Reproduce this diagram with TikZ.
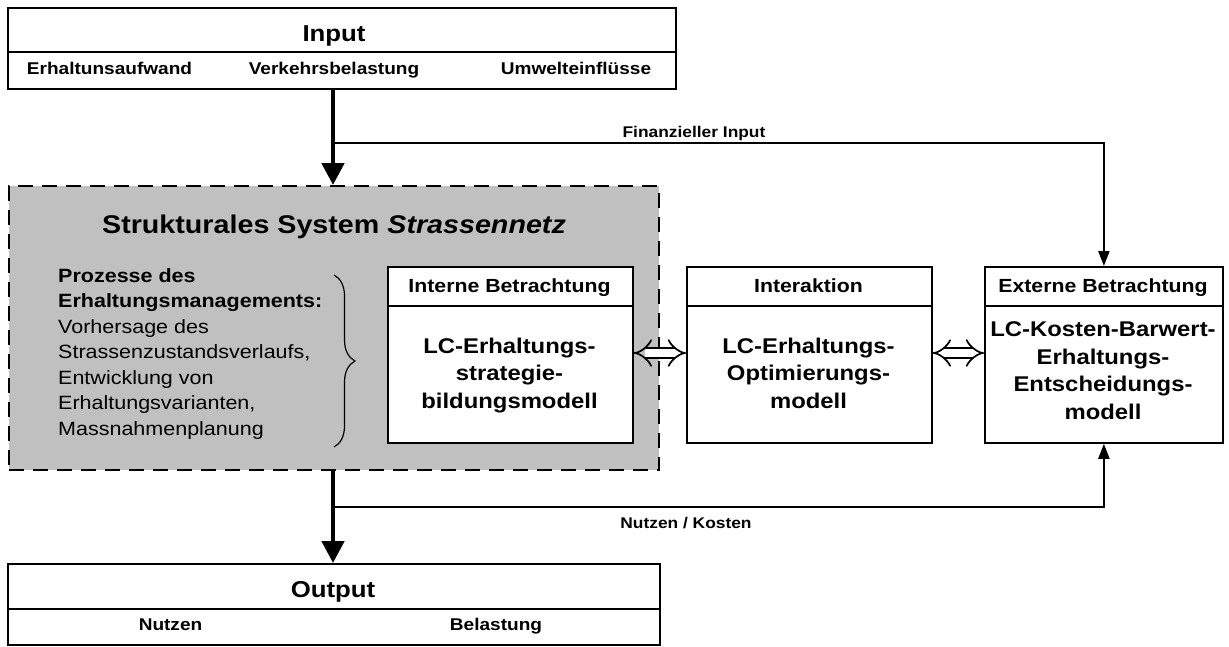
\documentclass[tikz,border=0pt]{standalone}
\usepackage{fontspec}
\setmainfont{Liberation Sans}[FakeStretch=1.12]
\usetikzlibrary{arrows.meta,decorations.pathreplacing,calc}
\definecolor{sysgray}{RGB}{192,192,192}
\begin{document}
\begin{tikzpicture}[x=1pt,y=-1pt,
  frame/.style={draw, line width=1.8pt, fill=white, anchor=north west, inner sep=0pt},
  sysframe/.style={draw, line width=2.4pt, fill=sysgray, dash pattern=on 15pt off 9pt, anchor=north west, inner sep=0pt},
  rule/.style={line width=1.5pt},
  lbl/.style={anchor=base, inner sep=0pt},
  mainflow/.style={line width=4.8pt, -{Triangle[length=22pt,width=22pt]}},
  sideflow/.style={line width=2.2pt, -{Triangle[length=15pt,width=11pt]}},
  exchange/.style={double, double distance=8pt, line width=1.7pt, {Implies[length=9pt]}-{Implies[length=9pt]}},
  head/.style={lbl, font=\fontsize{23}{27}\selectfont\bfseries},
  sub/.style={lbl, font=\fontsize{17}{20}\selectfont\bfseries},
  boxhead/.style={lbl, font=\fontsize{19}{22}\selectfont\bfseries},
  boxbody/.style={lbl, font=\fontsize{21.3}{27.5}\selectfont\bfseries, align=center},
  flowlabel/.style={lbl, font=\fontsize{15.5}{18}\selectfont\bfseries}
]
\useasboundingbox (0,0) rectangle (1229,646);

% Input box
\node[frame, minimum width=668pt, minimum height=81pt] (input) at (7,7) {};
\draw[rule] (7,52) -- (675,52);
\node[head] (inputT) at (334,41) {Input};
\node[sub] (in1) at (109.5,74) {Erhaltunsaufwand};
\node[sub] (in2) at (334,74) {Verkehrsbelastung};
\node[sub] (in3) at (576,74) {Umwelteinflüsse};

% structural system (dashed)
\node[sysframe, minimum width=650pt, minimum height=284pt] (sys) at (8,185) {};
\node[lbl, font=\fontsize{25.6}{30}\selectfont\bfseries] (sysT) at (334,233) {Strukturales System \textit{Strassennetz}};
% multi-line blocks: the base anchor sits on the last line
\node[anchor=base west, align=left, inner sep=0pt, font=\fontsize{19.2}{25.5}\selectfont] (proc) at (58,435)
  {\textbf{Prozesse des}\\\textbf{Erhaltungsmanagements:}\\Vorhersage des\\Strassenzustandsverlaufs,\\Entwicklung von\\Erhaltungsvarianten,\\Massnahmenplanung};
\coordinate (brTop) at (334,275);
\coordinate (brBot) at (334,447);
\draw[line width=1.2pt, decorate, decoration={brace, amplitude=21pt}] (brTop) -- (brBot);

% internal view
\node[frame, minimum width=245pt, minimum height=176pt] (intern) at (387,266) {};
\draw[rule] (387,306) -- (632,306);
\node[boxhead] (internH) at (509.5,292) {Interne Betrachtung};
\node[boxbody] (internB) at (509.5,408) {LC-Erhaltungs-\\strategie-\\bildungsmodell};

% interaction
\node[frame, minimum width=245pt, minimum height=176pt] (inter) at (686,266) {};
\draw[rule] (686,306) -- (931,306);
\node[boxhead] (interH) at (808.5,292) {Interaktion};
\node[boxbody] (interB) at (808.5,408) {LC-Erhaltungs-\\Optimierungs-\\modell};

% external view
\node[frame, minimum width=238pt, minimum height=176pt] (extern) at (984,266) {};
\draw[rule] (984,306) -- (1222,306);
\node[boxhead] (externH) at (1103,292) {Externe Betrachtung};
\node[boxbody] (externB) at (1103,419) {LC-Kosten-Barwert-\\Erhaltungs-\\Entscheidungs-\\modell};

% Output box
\node[frame, minimum width=652pt, minimum height=81pt] (output) at (7,563) {};
\draw[rule] (7,609) -- (659,609);
\node[head] (outT) at (333,597) {Output};
\node[sub] (out1) at (170.5,630) {Nutzen};
\node[sub] (out2) at (496,630) {Belastung};

% flows
\coordinate (jIn) at (333,143);
\coordinate (jOut) at (333,507);
\draw[mainflow] (input.south -| jIn) -- (sys.north -| jIn);
\draw[mainflow] (sys.south -| jOut) -- (output.north -| jOut);
\draw[sideflow] (jIn) -| (extern.north);
\draw[sideflow] (jOut) -| (extern.south);
\node[flowlabel] (finLbl) at (694,137) {Finanzieller Input};
\node[flowlabel] (nkLbl) at (686,528) {Nutzen / Kosten};

% exchanges between the models
\draw[exchange] (intern.east |- 0,353) -- (inter.west |- 0,353);
\draw[exchange] (inter.east |- 0,353) -- (extern.west |- 0,353);
\end{tikzpicture}
\end{document}
